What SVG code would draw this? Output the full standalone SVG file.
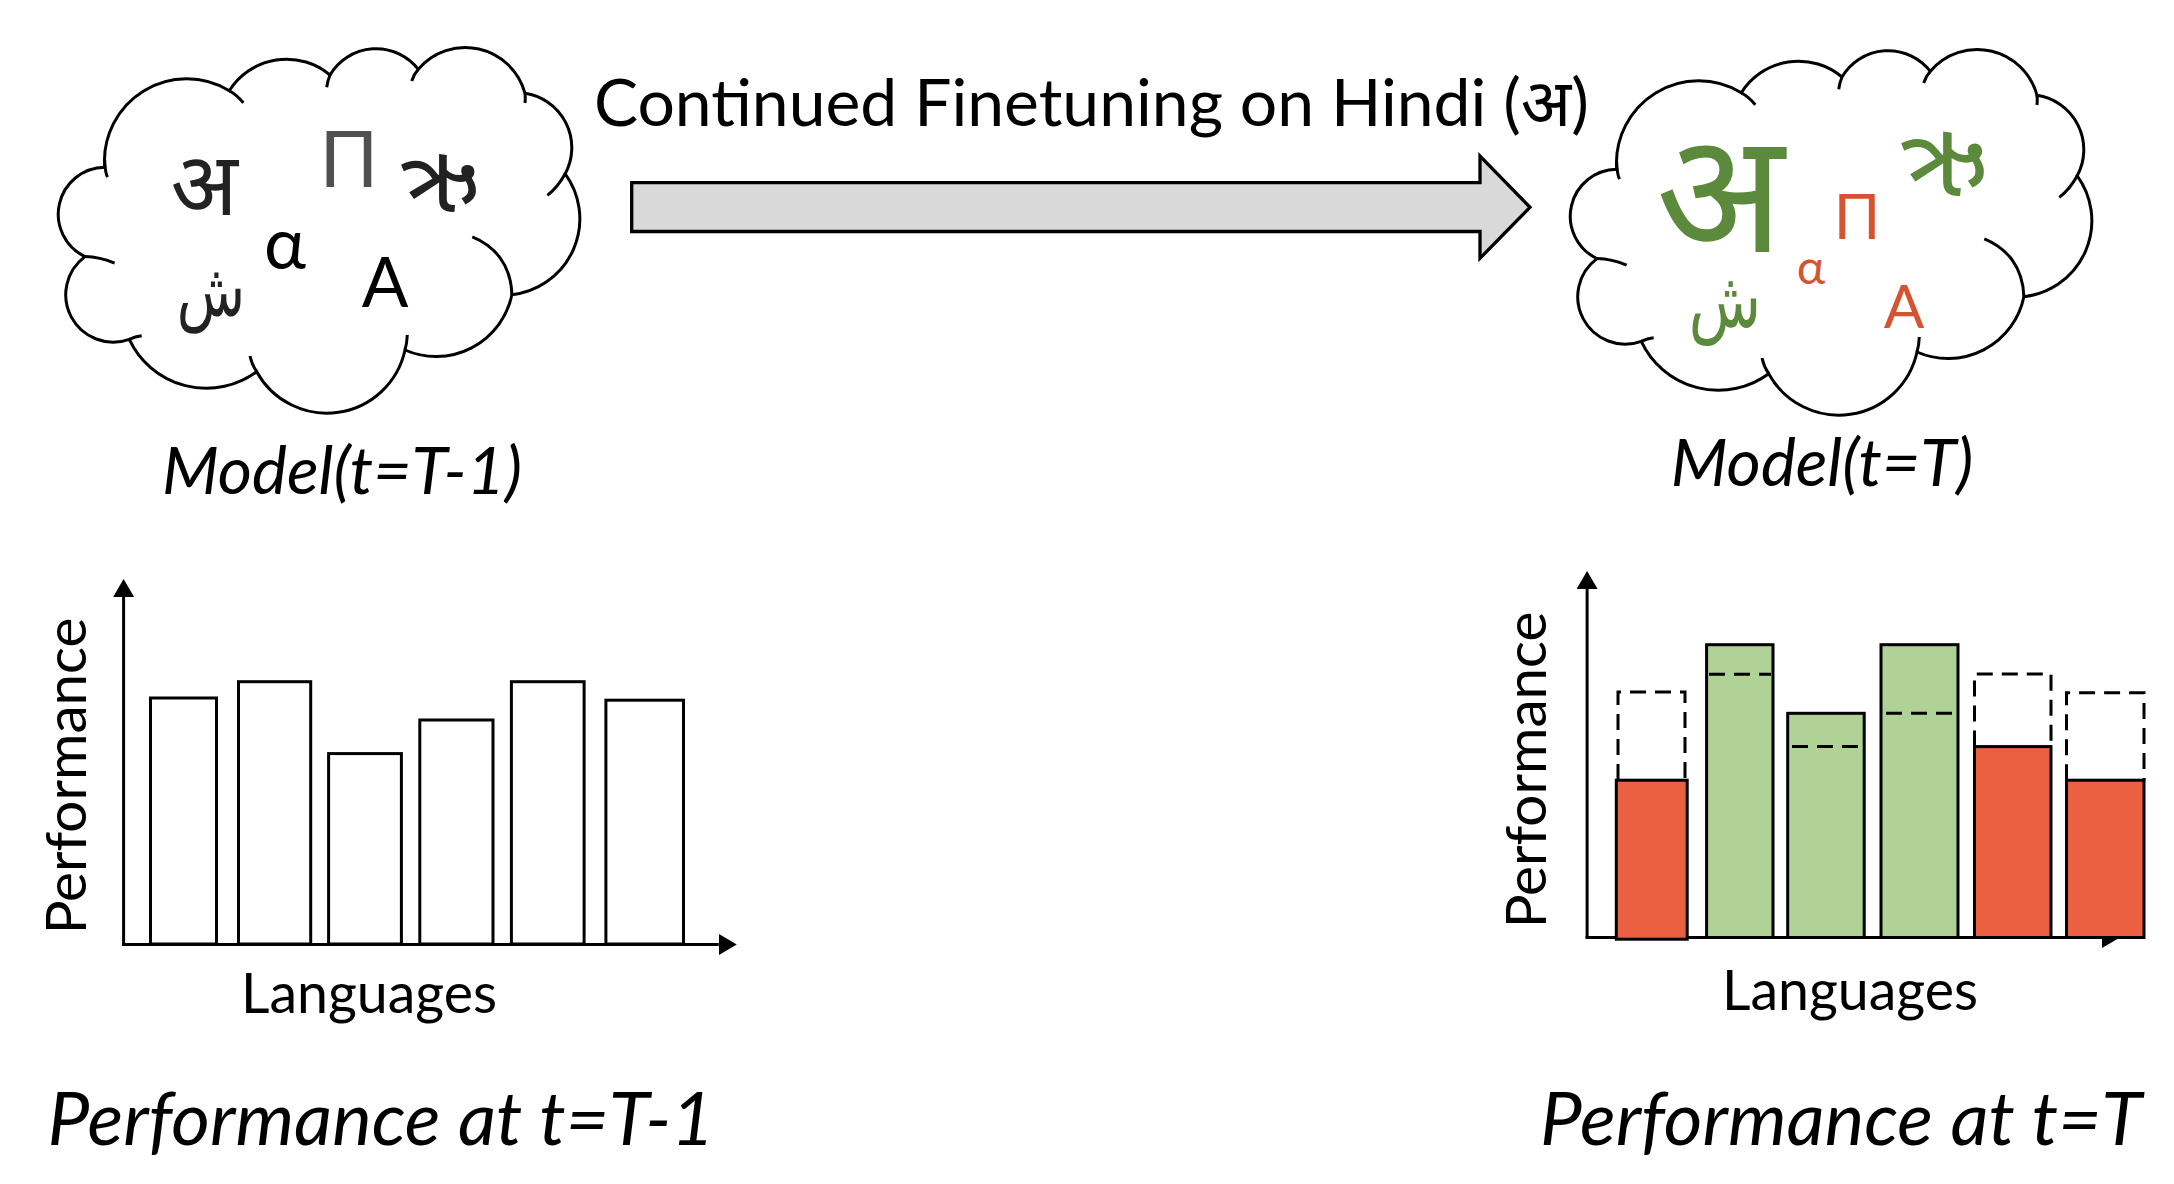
<svg xmlns="http://www.w3.org/2000/svg" width="2174" height="1184" viewBox="0 0 2174 1184">
<style>
  .lbl { font-family: Lato, "Noto Sans", "DejaVu Sans", sans-serif; fill: #000; }
  .it { font-style: italic; }
  .cloud { fill: #fff; stroke: #000; stroke-width: 3; }
  .inner { fill: none; stroke: #000; stroke-width: 3; }
  .glyph { font-family: Lato, "Noto Sans", "DejaVu Sans", sans-serif; text-anchor: middle; }
  .guj { font-family: "Noto Sans Gujarati", "Lohit Gujarati", "Noto Sans", sans-serif; text-anchor: middle; }
  .axis { stroke: #000; stroke-width: 3; fill: none; }
  .bar { stroke: #000; stroke-width: 3; }
  .white { fill: #fff; }
  .red { fill: #EA6041; }
  .green { fill: #B1D296; }
  .dash { fill: none; stroke: #000; stroke-width: 3; stroke-dasharray: 16 9; }
</style>
<defs>
  <marker id="ah" markerUnits="userSpaceOnUse" markerWidth="19" markerHeight="22" refX="0" refY="10.5" orient="auto">
    <path d="M0,0 L18,10.5 L0,21 Z" fill="#000"/>
  </marker>
  <g id="cloudShape">
    <path class="cloud" d="M104.7,167.2 A47,47 0 0 0 85,256.6 A47.4,47.4 0 0 0 129.3,339.3 A85,85 0 0 0 256.7,371.7 A80,80 0 0 0 405,350 A77.4,77.4 0 0 0 511.9,294.7 A76.4,76.4 0 0 0 565.2,173.8 A55,55 0 0 0 525,93.3 A61.7,61.7 0 0 0 418.3,69.3 A53.5,53.5 0 0 0 330,75 A67.7,67.7 0 0 0 229.3,90.7 A82.2,82.2 0 0 0 104.7,167.2 Z"/>
    <path class="inner" d="M104.7,160 Q105,172 107.5,177.2 M85,256.6 Q100,257 114.6,263.2 M129.3,339.3 Q135,336.5 141.7,335.7 M250,356 Q252,365 256.7,371.7 M407.3,335 Q407,343 405,350 M472.3,236.8 C495,246 511,265 511.9,294.7 M565.2,173.8 Q558,187 547.4,195.4 M525,93.3 Q525.5,98 525,103 M418.3,69.3 Q414,74 411.7,81 M330,75 Q327.5,81 326.7,87.3 M229.3,90.7 Q237,95 243.3,102.7"/>
  </g>
</defs>

<g id="connectors">
  <polygon id="finetune-arrow" points="631.7,182.7 1480,182.7 1480,156 1530,207.3 1480,258.3 1480,231.5 631.7,231.5" fill="#D9D9D9" stroke="#000" stroke-width="3.3" stroke-linejoin="miter"/>
  <text class="lbl" x="594" y="126" font-size="66">Continued Finetuning on Hindi (अ)</text>
</g>

<g id="model-prev">
  <use href="#cloudShape"/>
  <text class="glyph" x="204" y="215" font-size="88" fill="#222">अ</text>
  <text class="glyph" x="349" y="187" font-size="77" fill="#505050">Π</text>
  <text class="guj" x="440" y="212" font-size="96" fill="#222">ઋ</text>
  <text class="glyph" x="285" y="269" font-size="71" fill="#000">α</text>
  <text class="glyph" x="385" y="306.7" font-size="69" fill="#000">A</text>
  <text class="glyph" transform="translate(211,316) scale(0.8,1.05)" font-size="70" fill="#222">ش</text>
  <text class="lbl it" x="342" y="494" font-size="66" text-anchor="middle">Model(t=T-1)</text>
</g>

<g id="model-next">
  <use href="#cloudShape" transform="translate(1512,2)"/>
  <text class="glyph" x="1720" y="252" font-size="168" fill="#5B8A3C">अ</text>
  <text class="glyph" x="1857" y="239" font-size="61" fill="#D65331">Π</text>
  <text class="guj" x="1944" y="196" font-size="106" fill="#5B8A3C">ઋ</text>
  <text class="glyph" x="1811" y="284" font-size="48" fill="#D65331">α</text>
  <text class="glyph" x="1904" y="328" font-size="60" fill="#D65331">A</text>
  <text class="glyph" transform="translate(1725,327) scale(0.8,1.05)" font-size="74" fill="#5B8A3C">ش</text>
  <text class="lbl it" x="1822" y="486" font-size="66" text-anchor="middle">Model(t=T)</text>
</g>

<g id="chart-prev">
  <line class="axis" x1="123.6" y1="944.5" x2="123.6" y2="597" marker-end="url(#ah)"/>
  <line class="axis" x1="122" y1="944.5" x2="718.8" y2="944.5" marker-end="url(#ah)"/>
  <rect class="bar white" x="150.5" y="698" width="66" height="246"/>
  <rect class="bar white" x="238.5" y="681.7" width="72.2" height="262.3"/>
  <rect class="bar white" x="328.6" y="753.6" width="72.8" height="190.4"/>
  <rect class="bar white" x="419.8" y="720" width="73.2" height="224"/>
  <rect class="bar white" x="511.4" y="681.7" width="72.7" height="262.3"/>
  <rect class="bar white" x="605.9" y="700.2" width="77.6" height="243.8"/>
  <text class="lbl" transform="translate(86,776) rotate(-90)" font-size="56.5" text-anchor="middle">Performance</text>
  <text class="lbl" x="369" y="1013" font-size="55.5" text-anchor="middle">Languages</text>
  <text class="lbl it" x="381" y="1145" font-size="74.5" text-anchor="middle">Performance at t=T-1</text>
</g>

<g id="chart-next">
  <line class="axis" x1="1587.1" y1="937.5" x2="1587.1" y2="589" marker-end="url(#ah)"/>
  <line class="axis" x1="1585.6" y1="937.5" x2="2102" y2="937.5" marker-end="url(#ah)"/>
  <path class="dash" d="M1618,780 V692 H1685 V780"/>
  <rect class="bar red" x="1616.3" y="780.2" width="70.9" height="159"/>
  <rect class="bar green" x="1706.6" y="644.7" width="66.4" height="292.8"/>
  <line class="dash" x1="1709" y1="674.3" x2="1771" y2="674.3"/>
  <rect class="bar green" x="1787.7" y="713.3" width="76.5" height="224.2"/>
  <line class="dash" x1="1792" y1="746.6" x2="1858" y2="746.6"/>
  <rect class="bar green" x="1881" y="644.7" width="77" height="292.8"/>
  <line class="dash" x1="1886" y1="713.3" x2="1952" y2="713.3"/>
  <path class="dash" d="M1974.5,746.6 V673.9 H2051 V746.6"/>
  <rect class="bar red" x="1974.5" y="746.6" width="76.5" height="190.9"/>
  <path class="dash" d="M2066.5,780.2 V692.8 H2144 V780.2"/>
  <rect class="bar red" x="2066.5" y="780.2" width="77.5" height="157.3"/>
  <text class="lbl" transform="translate(1546,770) rotate(-90)" font-size="56.5" text-anchor="middle">Performance</text>
  <text class="lbl" x="1850" y="1010" font-size="55.5" text-anchor="middle">Languages</text>
  <text class="lbl it" x="1841" y="1145" font-size="74.5" text-anchor="middle">Performance at t=T</text>
</g>
</svg>
